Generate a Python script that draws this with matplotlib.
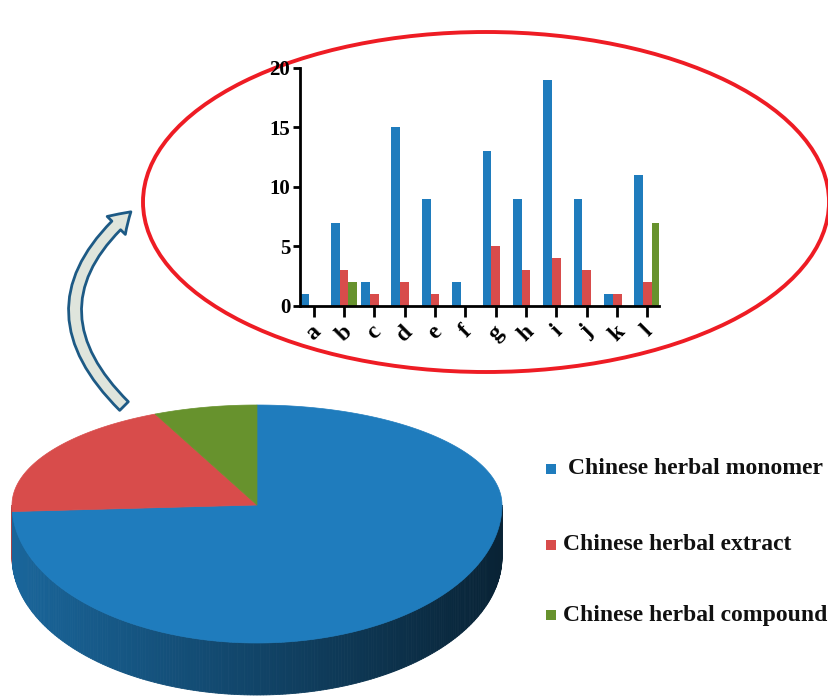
import numpy as np
import matplotlib
matplotlib.use('Agg')
import matplotlib.pyplot as plt
from matplotlib.patches import Ellipse, Rectangle, FancyArrowPatch, Polygon

categories = ['a', 'b', 'c', 'd', 'e', 'f', 'g', 'h', 'i', 'j', 'k', 'l']
monomer = [1, 7, 2, 15, 9, 2, 13, 9, 19, 9, 1, 11]
extract = [0, 3, 1, 2, 1, 0, 5, 3, 4, 3, 1, 2]
compound = [0, 2, 0, 0, 0, 0, 0, 0, 0, 0, 0, 7]
series_names = ['Chinese herbal monomer', 'Chinese herbal extract', 'Chinese herbal compound']
colors = ['#1f7cbd', '#d84c4b', '#67922d']

serif = 'Liberation Serif'

fig = plt.figure(figsize=(8.29, 6.97), dpi=100)

# background axes in pixel units (y down) for the pie, ellipse, arrow, legend
bg = fig.add_axes([0, 0, 1, 1])
bg.set_xlim(0, 829)
bg.set_ylim(697, 0)
bg.axis('off')

# --- 3D-looking pie (perspective: apex sits above the middle of the disc) ---
totals = [sum(monomer), sum(extract), sum(compound)]
cx, cy, rx, ry_back, ry_front, depth = 257, 505, 245, 100, 138, 52


def to_px(t_deg):
    t = np.radians(t_deg)
    s = np.sin(t)
    ry = np.where(s > 0, ry_back, ry_front)
    return cx + rx * np.cos(t), cy - ry * s


fracs = np.array(totals) / sum(totals)
bounds = []
start = 90.0
for f in fracs:
    end = start - f * 360
    bounds.append((end, start))
    start = end


def slice_color(t):
    t = t % 360
    for (a, b), c in zip(bounds, colors):
        lo, hi = a % 360, b % 360
        if lo < hi:
            if lo <= t < hi:
                return c
        else:
            if t >= lo or t < hi:
                return c
    return colors[0]


# side wall
ts = np.linspace(180, 360, 241)
for t0, t1 in zip(ts[:-1], ts[1:]):
    tm = np.radians((t0 + t1) / 2)
    shade = 0.55 - 0.27 * np.cos(tm)
    base = np.array(matplotlib.colors.to_rgb(slice_color((t0 + t1) / 2)))
    col = base * shade
    x0, y0 = to_px(t0)
    x1, y1 = to_px(t1)
    bg.add_patch(Polygon([(x0, y0), (x1, y1), (x1, y1 + depth), (x0, y0 + depth)],
                         closed=True, facecolor=col, edgecolor=col, lw=0.6))

# top face slices
for (a, b), c in zip(bounds, colors):
    ang = np.linspace(a, b, 200)
    xs, ys = to_px(ang)
    pts = [(cx, cy)] + list(zip(xs, ys))
    bg.add_patch(Polygon(pts, closed=True, facecolor=c, edgecolor=c, lw=0.5))

# --- red ellipse ---
bg.add_patch(Ellipse((486, 202), 686, 340, fill=False, edgecolor='#ee1c24', lw=2.8))

# --- curved arrow ---
arrow = FancyArrowPatch(posA=(126, 408), posB=(133, 210),
                        connectionstyle='arc3,rad=-0.55',
                        arrowstyle='simple,head_width=1.15,head_length=0.9,tail_width=0.55',
                        mutation_scale=16, facecolor='#dfe5dc', edgecolor='#1d5a85', lw=2)
bg.add_patch(arrow)

# --- legend ---
leg_y = [469, 545, 615]
leg_tx = [568, 563, 563]
for name, c, y, tx in zip(series_names, colors, leg_y, leg_tx):
    bg.add_patch(Rectangle((546, y - 5), 10, 10, facecolor=c, edgecolor='none'))
    bg.text(tx, y, name, fontsize=17, fontweight='bold', family=serif,
            va='center', ha='left', color='#111111')

# --- bar chart inside the ellipse ---
ax = fig.add_axes([300 / 829, 1 - 306 / 697, 359 / 829, (306 - 68) / 697])
ax.patch.set_alpha(0)
x = np.arange(len(categories))
w = 0.29
ax.bar(x - w, monomer, w, color=colors[0])
ax.bar(x, extract, w, color=colors[1])
ax.bar(x + w, compound, w, color=colors[2])
ax.set_xlim(-0.45, 11.38)
ax.set_ylim(0, 20)
ax.set_yticks([0, 5, 10, 15, 20])
ax.set_xticks(x)
ax.set_xticklabels(categories, rotation=45, ha='center', va='top')
for lab in ax.get_yticklabels():
    lab.set_family(serif)
    lab.set_fontweight('bold')
    lab.set_fontsize(15)
for lab in ax.get_xticklabels():
    lab.set_family(serif)
    lab.set_fontweight('bold')
    lab.set_fontsize(17)
ax.spines['top'].set_visible(False)
ax.spines['right'].set_visible(False)
ax.spines['left'].set_linewidth(2)
ax.spines['bottom'].set_linewidth(2)
ax.tick_params(axis='y', length=5, width=2, pad=2)
ax.tick_params(axis='x', length=8, width=2, pad=3)

fig.savefig('out.png', dpi=100)
